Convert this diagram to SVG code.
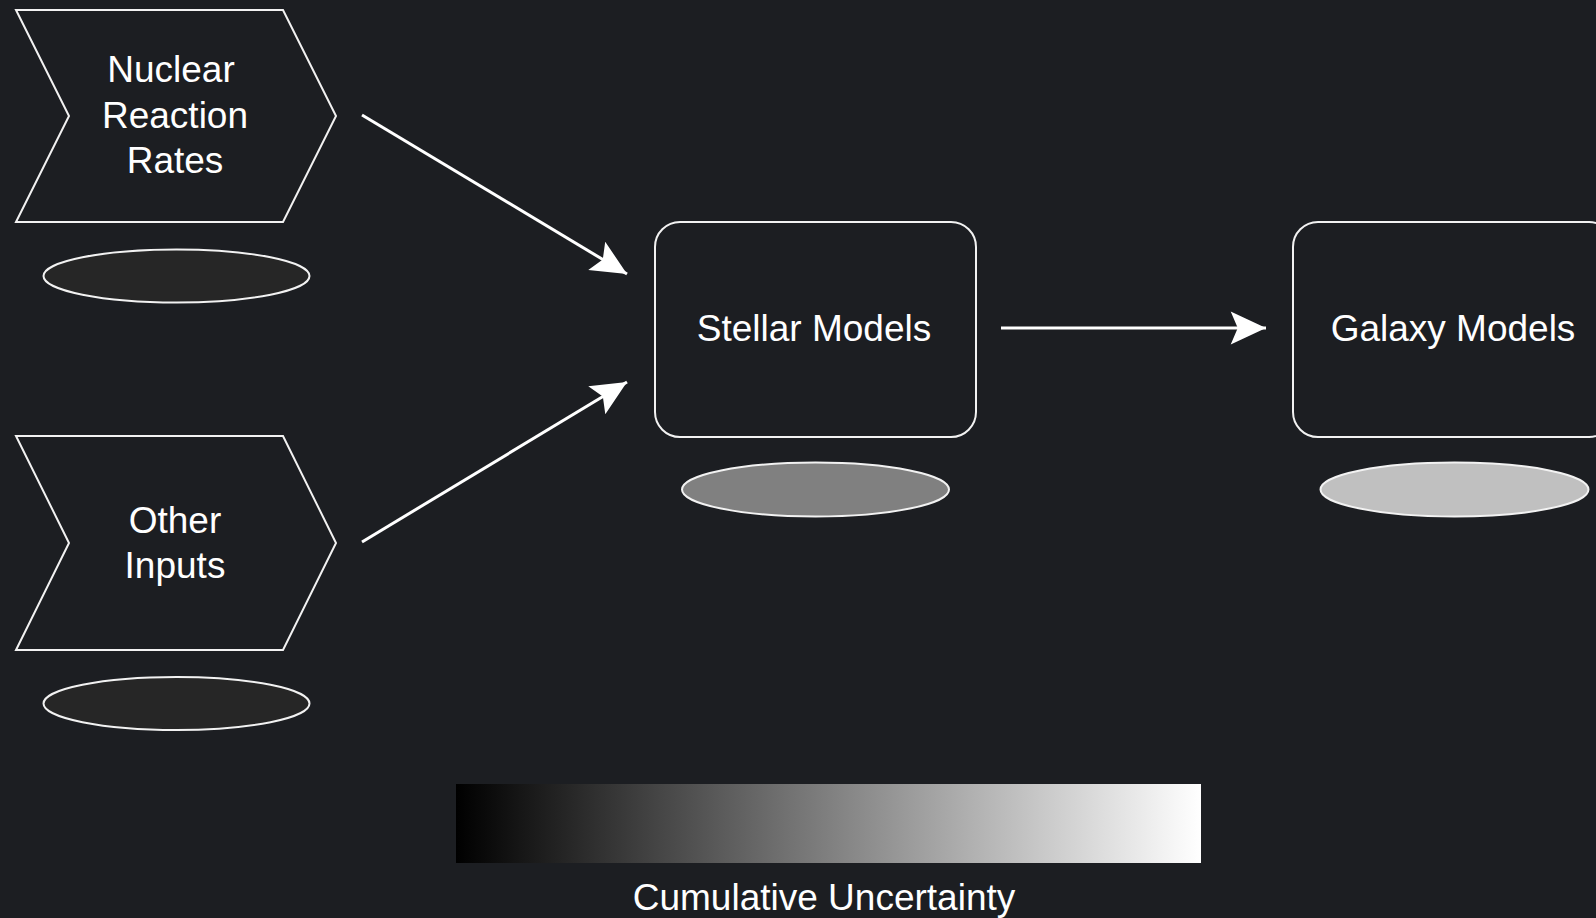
<svg xmlns="http://www.w3.org/2000/svg" width="1596" height="918" viewBox="0 0 1596 918">
<defs>
<style>
.node{fill:none;stroke:#f2f2f2;stroke-width:2}
.lbl{font-family:"Liberation Sans",Arial,sans-serif;font-size:37px;fill:#ffffff;text-anchor:middle}
.conn{stroke:#ffffff;stroke-width:3;fill:none}
.oval{stroke:#f2f2f2;stroke-width:2}
</style>
<linearGradient id="grad" x1="0" y1="0" x2="1" y2="0">
<stop offset="0" stop-color="#000000"/>
<stop offset="1" stop-color="#ffffff"/>
</linearGradient>
<marker id="arr" markerUnits="userSpaceOnUse" markerWidth="40" markerHeight="40" viewBox="-32 -16 34 32" refX="0" refY="0" orient="auto">
<path d="M0,0 L-30,-14 L-24,0 L-30,14 Z" fill="#ffffff"/>
</marker>
</defs>
<rect width="1596" height="918" fill="#1c1e22"/>
<g id="nuclear">
<polygon class="node" points="16,10 283,10 336,116 283,222 16,222 69,116"/>
<text class="lbl" x="171" y="82">Nuclear</text>
<text class="lbl" x="175" y="128">Reaction</text>
<text class="lbl" x="175" y="173">Rates</text>
<ellipse class="oval" cx="176.5" cy="276" rx="133" ry="26.5" fill="#262626"/>
</g>
<g id="other">
<polygon class="node" points="16,436 283,436 336,543 283,650 16,650 69,543"/>
<text class="lbl" x="175" y="533">Other</text>
<text class="lbl" x="175" y="578">Inputs</text>
<ellipse class="oval" cx="176.5" cy="703.5" rx="133" ry="26.5" fill="#262626"/>
</g>
<g id="stellar">
<rect class="node" x="655" y="222" width="321" height="215" rx="25" ry="25"/>
<text class="lbl" x="814" y="341">Stellar Models</text>
<ellipse class="oval" cx="815.5" cy="489.5" rx="133.5" ry="27" fill="#808080"/>
</g>
<g id="galaxy">
<rect class="node" x="1293" y="222" width="321" height="215" rx="25" ry="25"/>
<text class="lbl" x="1453" y="341">Galaxy Models</text>
<ellipse class="oval" cx="1454.5" cy="489.5" rx="134" ry="27" fill="#c0c0c0"/>
</g>
<g id="legend">
<rect x="456" y="784" width="745" height="79" fill="url(#grad)"/>
<text class="lbl" x="824" y="910">Cumulative Uncertainty</text>
</g>
<g id="connectors">
<line class="conn" x1="362" y1="115" x2="627" y2="274" marker-end="url(#arr)"/>
<line class="conn" x1="362" y1="542" x2="627" y2="382" marker-end="url(#arr)"/>
<line class="conn" x1="1001" y1="328" x2="1266" y2="328" marker-end="url(#arr)"/>
</g>
</svg>
